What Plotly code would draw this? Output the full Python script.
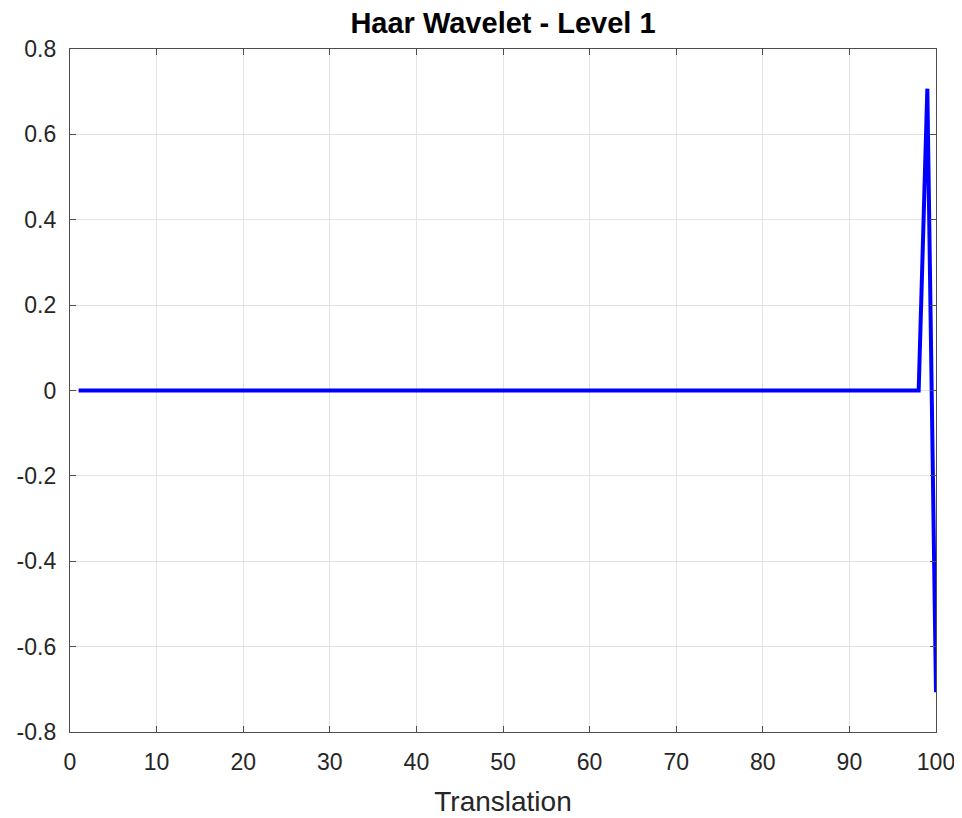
import plotly.graph_objects as go

translation = list(range(1, 101))
coefficients = [
    0, 0, 0, 0, 0, 0, 0, 0, 0, 0,
    0, 0, 0, 0, 0, 0, 0, 0, 0, 0,
    0, 0, 0, 0, 0, 0, 0, 0, 0, 0,
    0, 0, 0, 0, 0, 0, 0, 0, 0, 0,
    0, 0, 0, 0, 0, 0, 0, 0, 0, 0,
    0, 0, 0, 0, 0, 0, 0, 0, 0, 0,
    0, 0, 0, 0, 0, 0, 0, 0, 0, 0,
    0, 0, 0, 0, 0, 0, 0, 0, 0, 0,
    0, 0, 0, 0, 0, 0, 0, 0, 0, 0,
    0, 0, 0, 0, 0, 0, 0, 0, 0.7071, -0.7071,
]
x_ticks = [0, 10, 20, 30, 40, 50, 60, 70, 80, 90, 100]
y_ticks = [-0.8, -0.6, -0.4, -0.2, 0, 0.2, 0.4, 0.6, 0.8]
y_tick_text = ["-0.8", "-0.6", "-0.4", "-0.2", "0", "0.2", "0.4", "0.6", "0.8"]

FONT = "Liberation Sans, Arial, Helvetica, sans-serif"

fig = go.Figure()
fig.add_trace(go.Scatter(
    x=translation, y=coefficients, mode="lines",
    line=dict(color="#0000ff", width=4),
    showlegend=False,
))

axis_common = dict(
    showline=True, linecolor="#4d4d4d", linewidth=1.3, mirror="ticks",
    ticks="inside", ticklen=6, tickcolor="#4d4d4d", tickwidth=1,
    showgrid=True, gridcolor="#e3e3e3", gridwidth=1,
    zeroline=False, automargin=False,
    tickfont=dict(family=FONT, size=23, color="#262626"),
)

# page body has an 8px margin: figure sits at (8, 8)
fig.update_layout(
    width=954, height=810,
    paper_bgcolor="white", plot_bgcolor="white",
    margin=dict(l=62, r=26, t=41, b=86),
    title=dict(
        text="<b>Haar Wavelet - Level 1</b>",
        x=0.5, xanchor="center", xref="paper",
        y=1 - 15 / 810, yanchor="middle", yref="container",
        font=dict(family=FONT, size=29, color="#000000"),
    ),
    xaxis=dict(
        range=[0, 100], tickvals=x_ticks, ticktext=[str(v) for v in x_ticks],
        ticklabelstandoff=9,
        title=dict(text="Translation", standoff=17,
                   font=dict(family=FONT, size=28, color="#262626")),
        **axis_common,
    ),
    yaxis=dict(
        range=[-0.8, 0.8], tickvals=y_ticks, ticktext=y_tick_text,
        ticklabelstandoff=8,
        **axis_common,
    ),
)

fig.write_html("out.html")
